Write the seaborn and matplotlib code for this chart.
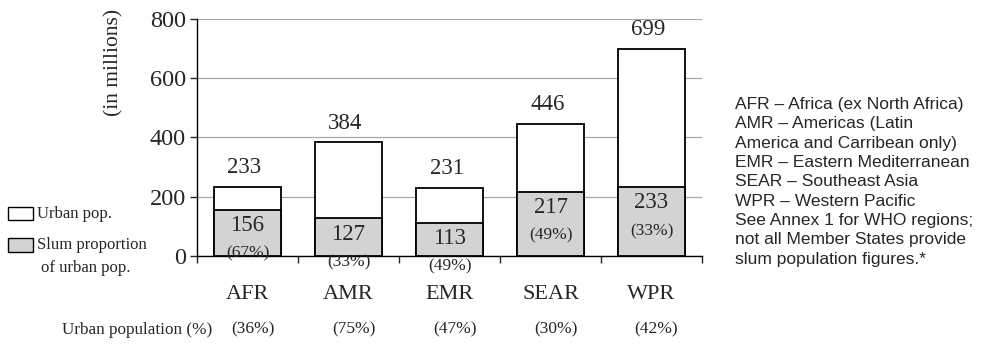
import numpy as np
import pandas as pd
import matplotlib
matplotlib.use("Agg")
import matplotlib.pyplot as plt
import matplotlib.transforms as mtransforms
from matplotlib.patches import Rectangle
import seaborn as sns

regions = ["AFR", "AMR", "EMR", "SEAR", "WPR"]
urban_pop = [233, 384, 231, 446, 699]
slum_pop = [156, 127, 113, 217, 233]
slum_pct = ["(67%)", "(33%)", "(49%)", "(49%)", "(33%)"]
urban_pct = ["(36%)", "(75%)", "(47%)", "(30%)", "(42%)"]
notes = ["AFR \u2013 Africa (ex North Africa)",
         "AMR \u2013 Americas (Latin",
         "America and Carribean only)",
         "EMR \u2013 Eastern Mediterranean",
         "SEAR \u2013 Southeast Asia",
         "WPR \u2013 Western Pacific",
         "See Annex 1 for WHO regions;",
         "not all Member States provide",
         "slum population figures.*"]

data = pd.DataFrame({"region": regions, "urban": urban_pop, "slum": slum_pop})

sns.set_style("white")
plt.rcParams["font.family"] = ["Liberation Serif", "DejaVu Serif"]

fig = plt.figure(figsize=(9.85, 3.45), dpi=100)
ax = fig.add_axes([0.2, 0.258, 0.5127, 0.687])

sns.barplot(data=data, x="region", y="urban", color="white", edgecolor="black",
            linewidth=1.3, width=0.67, saturation=1, ax=ax, zorder=3)
sns.barplot(data=data, x="region", y="slum", color="#d3d3d3", edgecolor="black",
            linewidth=1.3, width=0.67, saturation=1, ax=ax, zorder=4)

ax.set_ylim(0, 800)
ax.set_xlim(-0.5, 4.5)
ax.set_yticks([0, 200, 400, 600, 800])
ax.yaxis.grid(True, color="#a8a8a8", linewidth=0.9, zorder=0)
ax.set_axisbelow(True)
for s in ["top", "right"]:
    ax.spines[s].set_visible(False)
for s in ["left", "bottom"]:
    ax.spines[s].set_color("black")
    ax.spines[s].set_linewidth(1.0)

ax.tick_params(axis="y", direction="out", length=5, width=1, labelsize=17.5, left=True, pad=3)
ax.tick_params(axis="x", which="major", length=0, labelsize=16, pad=21)
ax.set_xticks(np.arange(-0.5, 5.0, 1.0), minor=True)
ax.tick_params(axis="x", which="minor", direction="out", length=5, width=1, bottom=True)
ax.set_xlabel("")
ax.set_ylabel("(in millions)", fontsize=15.5)
ax.yaxis.set_label_coords(-0.145, 0.815)

for i in range(len(regions)):
    ax.annotate(str(urban_pop[i]), (i, urban_pop[i]), xytext=(-3, 19),
                textcoords="offset pixels", ha="center", va="center", fontsize=16.5, zorder=6)
    ax.annotate(str(slum_pop[i]), (i, slum_pop[i]), xytext=(0, -16),
                textcoords="offset pixels", ha="center", va="center", fontsize=16.5, zorder=6)
    ax.annotate(slum_pct[i], (i, slum_pop[i]), xytext=(0, -44),
                textcoords="offset pixels", ha="center", va="center", fontsize=12.5,
                zorder=6, annotation_clip=False)

trans = mtransforms.blended_transform_factory(ax.transData, fig.transFigure)
for i in range(len(regions)):
    ax.text(i + 0.05, 0.044, urban_pct[i], transform=trans, ha="center", va="center", fontsize=12.5)
fig.text(212 / 985, 0.044, "Urban population (%)", ha="right", va="center", fontsize=12.3)

# legend drawn by hand
fig.add_artist(Rectangle((8 / 985, 1 - 220 / 345), 25 / 985, 13 / 345,
                         transform=fig.transFigure, facecolor="white", edgecolor="black", lw=1))
fig.add_artist(Rectangle((8 / 985, 1 - 252 / 345), 25 / 985, 14 / 345,
                         transform=fig.transFigure, facecolor="#d3d3d3", edgecolor="black", lw=1))
fig.text(37 / 985, 1 - 214 / 345, "Urban pop.", ha="left", va="center", fontsize=12)
fig.text(37 / 985, 1 - 245 / 345, "Slum proportion", ha="left", va="center", fontsize=12)
fig.text(41 / 985, 1 - 268 / 345, "of urban pop.", ha="left", va="center", fontsize=12)

fig.text(735 / 985, 1 - 97 / 345, "\n".join(notes), ha="left", va="top", fontsize=12.5,
         family=["Liberation Sans", "DejaVu Sans"], linespacing=1.36)

fig.savefig("out.png", dpi=100)
